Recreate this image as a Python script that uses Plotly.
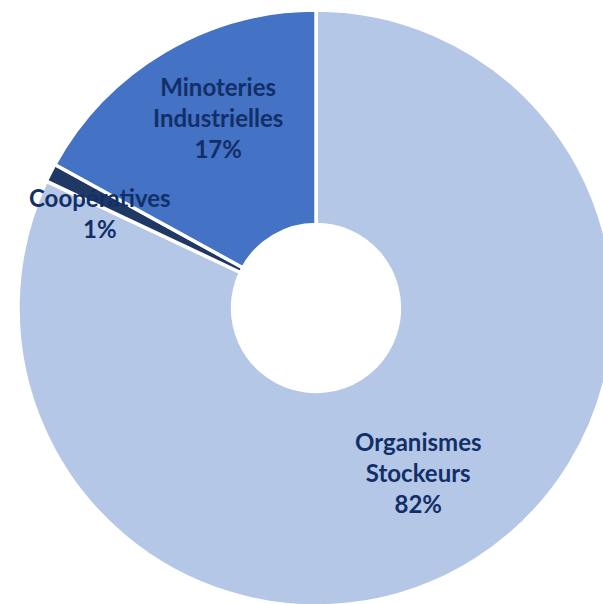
import plotly.graph_objects as go

categories = ["Organismes<br>Stockeurs", "Coopératives", "Minoteries<br>Industrielles"]
values = [82, 1, 17]
pct_labels = ["82%", "1%", "17%"]
colors = ["#B4C7E7", "#203864", "#4472C4"]

W, H = 640, 640
L, T, R, B = 18, 10, 26, 34
PW, PH = W - L - R, H - T - B

def px(x, y):
    return (x - L) / PW, 1 - (y - T) / PH

fig = go.Figure(go.Pie(
    labels=categories,
    values=values,
    hole=0.28,
    sort=False,
    direction="clockwise",
    rotation=0,
    marker=dict(colors=colors, line=dict(color="white", width=3.5)),
    textinfo="none",
    hoverinfo="label+percent",
    showlegend=False,
))

label_pos = [(418, 472), (100, 213), (218, 117)]
for cat, pct, (x, y) in zip(categories, pct_labels, label_pos):
    ax, ay = px(x, y)
    fig.add_annotation(
        x=ax, y=ay, xref="paper", yref="paper",
        text="<b>" + cat + "<br>" + pct + "</b>",
        showarrow=False, align="center",
        font=dict(family="Lato", size=24, color="#122F68"),
        xanchor="center", yanchor="middle",
    )

fig.update_layout(
    width=W, height=H,
    margin=dict(l=L, r=R, t=T, b=B),
    paper_bgcolor="white", plot_bgcolor="white",
)

fig.write_html(
    "out.html",
    config={"displayModeBar": False},
    post_script="document.body.style.margin='0';document.body.style.overflow='hidden';document.documentElement.style.overflow='hidden';",
)
